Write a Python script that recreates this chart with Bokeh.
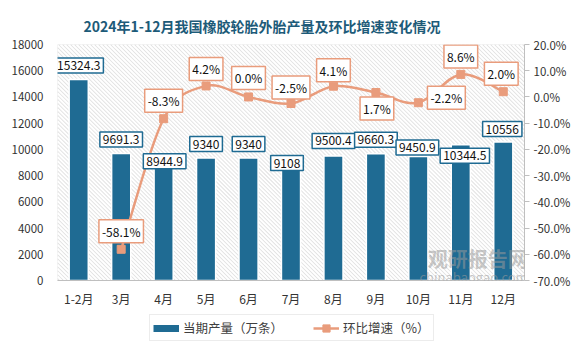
from bokeh.plotting import figure
from bokeh.layouts import column
from bokeh.models import (Range1d, FactorRange, LinearAxis, FixedTicker, PrintfTickFormatter,
                          BasicTickFormatter, Label, Legend, LegendItem)
from bokeh.embed import file_html
from bokeh.resources import INLINE

# ---------------- data ----------------
categories = ["1-2月", "3月", "4月", "5月", "6月", "7月", "8月", "9月", "10月", "11月", "12月"]
output = [15324.3, 9691.3, 8944.9, 9340, 9340, 9108, 9500.4, 9660.3, 9450.9, 10344.5, 10556]
growth_months = ["3月", "4月", "5月", "6月", "7月", "8月", "9月", "10月", "11月", "12月"]
growth = [-58.1, -8.3, 4.2, 0.0, -2.5, 4.1, 1.7, -2.2, 8.6, 2.0]
output_ticks = [0, 2000, 4000, 6000, 8000, 10000, 12000, 14000, 16000, 18000]
growth_ticks = [-70, -60, -50, -40, -30, -20, -10, 0, 10, 20]

# ---------------- styles ----------------
BAR = "#1f6b93"
LINE = "#e99c7c"
FONT = "Noto Sans CJK SC"
bar_lab_dy = [14, 14, 2, 14, 14, -2, 15, 14, 9, -11, 13]
bar_lab_dx = [0, 0, 1, 0, 0, -4, 0, 0, -1, 4, -1]
pct_lab_dy = [18, 18, 17, 19, 16, 16, -16, 5, 18, 18]
pct_lab_dx = [0, 0, 0, 0, 0, 0, 1, 28, 0, -2]

W, H = 576, 309
BL, BR, BT, BB = 57, 52, 44, 26
AXIS_PANEL = 28
y_max = output_ticks[-1]

p = figure(width=W, height=H, x_range=FactorRange(*categories),
           y_range=Range1d(output_ticks[0], y_max), output_backend="svg", toolbar_location=None,
           min_border_left=BL, min_border_right=BR, min_border_top=BT, min_border_bottom=BB)
p.extra_y_ranges = {"pct": Range1d(growth_ticks[0], growth_ticks[-1])}
p.outline_line_color = None
p.xgrid.visible = False
p.ygrid.visible = False
p.background_fill_color = "#e2e2e2"   # gray base of the hatched plot area
p.border_fill_color = "white"

p.title.text = "2024年1-12月我国橡胶轮胎外胎产量及环比增速变化情况"
p.title.text_font = FONT
p.title.text_font_size = "14px"
p.title.text_font_style = "bold"
p.title.text_color = "#1d5b79"
p.title.align = "left"
p.title.offset = 26
p.title.standoff = 18

# white diagonal stripes over the gray base -> thin gray "\" hatch lines
nx = len(categories)
fw, fh = W - BL - BR, H - BT - AXIS_PANEL
step = 4.0
hx0, hy0, hx1, hy1 = [], [], [], []
c = 0.0
while c < fw + fh + step:
    a0 = max(0.0, c - fh)
    a1 = min(float(fw), c)
    hx0.append(a0 / fw * nx); hy0.append((c - a0) / fh * y_max)
    hx1.append(a1 / fw * nx); hy1.append((c - a1) / fh * y_max)
    c += step
p.segment(x0=hx0, y0=hy0, x1=hx1, y1=hy1, line_color="white", line_width=1.9)

ax = p.yaxis[0]
ax.ticker = FixedTicker(ticks=output_ticks)
ax.formatter = BasicTickFormatter(use_scientific=False)
ax.axis_line_color = None
ax.major_tick_line_color = None
ax.minor_tick_line_color = None
ax.major_label_text_font = FONT
ax.major_label_text_font_size = "11.5px"
ax.major_label_text_color = "#333333"
ax.major_label_standoff = 8

rax = LinearAxis(y_range_name="pct", ticker=FixedTicker(ticks=growth_ticks),
                 formatter=PrintfTickFormatter(format="%.1f%%"))
rax.axis_line_color = "#bfbfbf"
rax.major_tick_line_color = "#bfbfbf"
rax.major_tick_in = 0
rax.major_tick_out = 5
rax.minor_tick_line_color = None
rax.major_label_text_font = FONT
rax.major_label_text_font_size = "11.5px"
rax.major_label_text_color = "#333333"
rax.major_label_standoff = 4
p.add_layout(rax, "right")

xa = p.xaxis[0]
xa.axis_line_color = "#bfbfbf"
xa.major_tick_line_color = None
xa.minor_tick_line_color = None
xa.major_label_text_font = FONT
xa.major_label_text_font_size = "12px"
xa.major_label_text_color = "#333333"
xa.major_label_standoff = 3

bars = p.vbar(x=categories, top=output, width=0.45, fill_color=BAR,
              line_color="white", line_width=1.5)

gx = [categories.index(m) + 0.5 for m in growth_months]
n = len(growth)
x0s, y0s, x1s, y1s, cx0s, cy0s, cx1s, cy1s = [], [], [], [], [], [], [], []
for k in range(n - 1):
    a = k - 1 if k > 0 else k
    d = k + 2 if k + 2 < n else k + 1
    x0s.append(gx[k]); y0s.append(growth[k])
    x1s.append(gx[k + 1]); y1s.append(growth[k + 1])
    cx0s.append(gx[k] + (gx[k + 1] - gx[a]) / 6)
    cy0s.append(growth[k] + (growth[k + 1] - growth[a]) / 6)
    cx1s.append(gx[k + 1] - (gx[d] - gx[k]) / 6)
    cy1s.append(growth[k + 1] - (growth[d] - growth[k]) / 6)
p.bezier(x0=x0s, y0=y0s, x1=x1s, y1=y1s, cx0=cx0s, cy0=cy0s, cx1=cx1s, cy1=cy1s,
         line_color=LINE, line_width=2.5, y_range_name="pct")
marks = p.scatter(x=gx, y=growth, marker="square", size=8,
                  fill_color=LINE, line_color=LINE, y_range_name="pct")

for i, v in enumerate(output):
    p.add_layout(Label(x=i + 0.5, y=v, x_offset=bar_lab_dx[i], y_offset=bar_lab_dy[i],
                       text=f"{v:g}", text_align="center", text_baseline="middle",
                       text_font=FONT, text_font_size="12px", text_color="#111111",
                       background_fill_color="white", border_line_color=BAR,
                       border_line_width=1.5, padding=3))
for i, v in enumerate(growth):
    p.add_layout(Label(x=gx[i], y=v, y_range_name="pct", x_offset=pct_lab_dx[i],
                       y_offset=pct_lab_dy[i], text=f"{v:.1f}%", text_align="center",
                       text_baseline="middle", text_font=FONT, text_font_size="12px",
                       text_color="#111111", background_fill_color="white",
                       border_line_color=LINE, border_line_width=1.5, padding=3))

# watermark
p.add_layout(Label(x=9.9, y=1700, text="观研报告网", text_align="center", text_baseline="middle",
                   text_font=FONT, text_font_size="20px", text_font_style="bold",
                   text_color="#9a9a9a", text_alpha=0.55))
p.add_layout(Label(x=9.8, y=330, text="chinabaogao.com", text_align="center",
                   text_baseline="middle", text_font=FONT, text_font_size="13px",
                   text_color="#9a9a9a", text_alpha=0.55))

# legend strip below the chart (its frame is aligned with the chart frame)
lg = figure(width=W, height=44, x_range=Range1d(0, 1), y_range=Range1d(0, 1),
            output_backend="svg", toolbar_location=None, x_axis_location=None,
            y_axis_location=None, min_border=0)
lg.outline_line_color = None
lg.grid.visible = False
lg.background_fill_color = "white"
lg.border_fill_color = "white"
key_bar = lg.line(x=[2, 3], y=[2, 2], line_color=BAR, line_width=7, line_cap="butt")
key_line = lg.line(x=[2, 3], y=[2, 2], line_color=LINE, line_width=2.5)
key_mark = lg.scatter(x=[2], y=[2], marker="square", size=8, fill_color=LINE, line_color=LINE)
legend = Legend(items=[LegendItem(label="当期产量（万条）", renderers=[key_bar]),
                       LegendItem(label="环比增速（%）", renderers=[key_line, key_mark])],
                orientation="horizontal", location=(92, 12),
                border_line_color="#d9d9d9", border_line_width=1,
                background_fill_color="white", label_text_font=FONT,
                label_text_font_size="12.5px", label_text_color="#404040",
                glyph_width=26, glyph_height=18, label_height=18, label_standoff=4,
                spacing=30, padding=3, margin=0)
lg.add_layout(legend)

open("out.html", "w").write(file_html(column(p, lg, spacing=0), INLINE))
